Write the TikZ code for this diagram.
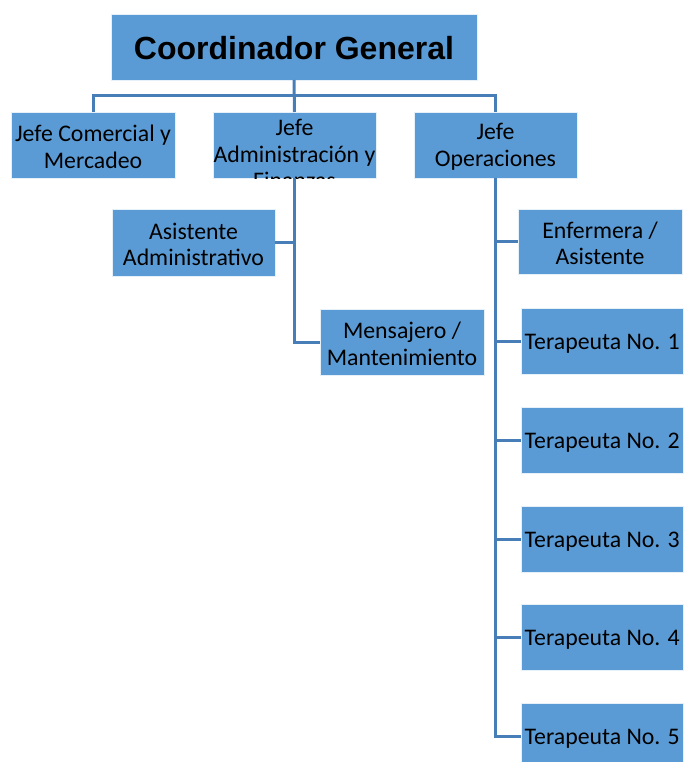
\documentclass[tikz,border=0pt]{standalone}
\usepackage{fontspec}
\setmainfont{Carlito}
\newfontfamily\titlefont{Liberation Sans}
\definecolor{boxblue}{RGB}{91,155,213}
\definecolor{linkblue}{RGB}{72,126,184}
\begin{document}
\begin{tikzpicture}[x=1pt,y=-1pt,
  box/.style={rectangle, fill=boxblue, draw=white!85!boxblue, line width=0.6pt, inner sep=0pt, outer sep=0pt},
  lbl/.style={align=center, font=\fontsize{23.8}{26.5}\selectfont, inner sep=0pt},
  link/.style={draw=linkblue, line width=3pt}]
\useasboundingbox (0,0) rectangle (683,762);
% boxes
\node[box, minimum width=366pt, minimum height=66pt] (coord) at (294,47) {};
\node[font=\titlefont\bfseries\fontsize{32}{36}\selectfont] at (294,48) {Coordinador General};
\node[box, minimum width=164pt, minimum height=66pt] (j1) at (93,145) {};
\node[lbl] at (93,147) {Jefe Comercial y\\Mercadeo};
\node[box, minimum width=163pt, minimum height=66pt] (j2) at (294.5,145) {};
\begin{scope}
\clip (213,112) rectangle (376,178);
\node[lbl] at (294.5,154) {Jefe\\Administración y\\Finanzas};
\end{scope}
\node[box, minimum width=163pt, minimum height=66pt] (j3) at (495.5,145) {};
\node[lbl] at (495.5,147) {Jefe\\Operaciones};
\node[box, minimum width=163pt, minimum height=67pt] (asis) at (193.5,242.5) {};
\node[lbl] at (193.5,244.5) {Asistente\\Administrativo};
\node[box, minimum width=164pt, minimum height=66pt] (mens) at (402,342) {};
\node[lbl] at (402,344) {Mensajero /\\Mantenimiento};
\node[box, minimum width=164pt, minimum height=65pt] (enf) at (600,241.5) {};
\node[lbl] at (600,243.5) {Enfermera /\\Asistente};
\foreach \i/\y in {1/341,2/440,3/539,4/637,5/736}{
  \node[box, anchor=west, minimum width=162pt, minimum height=66pt] (t\i) at (521,\y) {};
  \node[lbl, anchor=west] at (524.5,\y+3) {Terapeuta No. \i};
}
% connectors
\draw[link] (coord.south) -- (j2.north);
\draw[link] (j1.north) -- ++(0,-16) -| (j3.north);
\draw[link] (j2.south) |- (asis.east);
\draw[link] (j2.south) |- (mens.west);
\draw[link] (j3.south) |- (enf.west);
\foreach \i in {1,...,5}{
  \draw[link] (j3.south) |- (t\i.west);
}
\end{tikzpicture}
\end{document}
